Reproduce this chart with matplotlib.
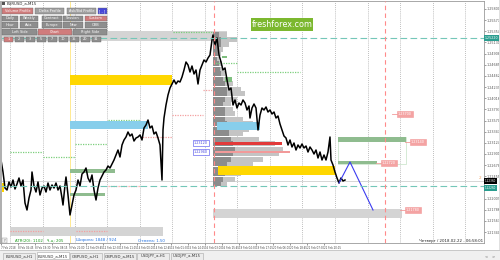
import numpy as np
import matplotlib.pyplot as plt
from matplotlib.patches import Rectangle

plt.rcParams['font.family'] = ['DejaVu Sans']

# ---- price path (bar index, close) ----
bars = [1, 3, 5, 7, 9, 11, 13, 15, 17, 19, 21, 23, 25, 27, 29, 31, 32, 34, 36, 38,
        40, 42, 44, 46, 48, 50, 52, 54, 56, 58, 60, 62, 63, 65, 66, 68, 70, 72, 74, 76,
        78, 80, 82, 84, 86, 88, 90, 92, 94, 96, 98, 100, 102, 104, 106, 108, 110, 112, 114, 116,
        118, 120, 122, 124, 126, 128, 130, 132, 134, 136, 138, 140, 142, 144, 146, 148, 150, 152, 154, 156,
        158, 160, 162, 163, 164, 166, 168, 170, 172, 174, 176, 178, 180, 182, 184, 186, 188, 190, 192, 194,
        196, 198, 200, 202, 204, 206, 208, 210, 212, 213, 215, 217, 219, 221, 223, 225, 227, 229, 231, 233,
        235, 237, 239, 241, 243, 245, 247, 249, 250, 252, 254, 256, 258, 260, 262, 264, 266, 268, 270, 272,
        274, 276, 278, 280, 282, 284, 286, 288, 290, 292, 294, 296, 298, 300, 302, 304, 306, 308, 310, 312,
        314, 316, 318, 320, 322, 324, 326, 328, 330, 331, 333, 335, 337, 339, 341, 343, 345]
close = [1.2278, 1.2254, 1.2222, 1.2218, 1.2234, 1.2224, 1.2238, 1.2220, 1.2230, 1.2242,
         1.2226, 1.2238, 1.2192, 1.2178, 1.2202, 1.2218, 1.2254, 1.2226, 1.2214, 1.2234,
         1.2208, 1.2222, 1.2226, 1.2214, 1.2232, 1.2218, 1.2228, 1.2222, 1.2232, 1.2218,
         1.2226, 1.2202, 1.2188, 1.2228, 1.2244, 1.2208, 1.2168, 1.2188, 1.2208, 1.2218,
         1.2238, 1.2226, 1.2250, 1.2254, 1.2262, 1.2242, 1.2234, 1.2248, 1.2218, 1.2198,
         1.2222, 1.2238, 1.2246, 1.2254, 1.2258, 1.2266, 1.2262, 1.2270, 1.2278, 1.2288,
         1.2298, 1.2284, 1.2308, 1.2318, 1.2324, 1.2334, 1.2326, 1.2330, 1.2316, 1.2322,
         1.2324, 1.2328, 1.2318, 1.2342, 1.2348, 1.2358, 1.2342, 1.2346, 1.2330, 1.2334,
         1.2322, 1.2308, 1.2238, 1.2338, 1.2362, 1.2388, 1.2408, 1.2422, 1.2430, 1.2438,
         1.2430, 1.2436, 1.2434, 1.2444, 1.2458, 1.2474, 1.2468, 1.2454, 1.2466, 1.2450,
         1.2458, 1.2430, 1.2458, 1.2468, 1.2478, 1.2474, 1.2482, 1.2488, 1.2518, 1.2528,
         1.2508, 1.2522, 1.2488, 1.2474, 1.2458, 1.2462, 1.2438, 1.2418, 1.2422, 1.2388,
         1.2398, 1.2382, 1.2392, 1.2388, 1.2398, 1.2392, 1.2378, 1.2386, 1.2362, 1.2382,
         1.2390, 1.2382, 1.2338, 1.2368, 1.2382, 1.2378, 1.2384, 1.2374, 1.2378, 1.2370,
         1.2374, 1.2362, 1.2366, 1.2350, 1.2338, 1.2326, 1.2322, 1.2308, 1.2318, 1.2304,
         1.2312, 1.2298, 1.2308, 1.2302, 1.2310, 1.2302, 1.2306, 1.2294, 1.2304, 1.2298,
         1.2290, 1.2298, 1.2282, 1.2294, 1.2278, 1.2288, 1.2278, 1.2294, 1.2324, 1.2278,
         1.2268, 1.2254, 1.2242, 1.2232, 1.2242, 1.2236, 1.2238]

# forecast zigzag
fc_bars = [339, 350, 373]
fc_price = [1.2232, 1.2274, 1.2178]

# volume profile (anchored at bar 213)
prof_levels = [1.2530, 1.2520, 1.2510, 1.2500, 1.2490, 1.2480, 1.2470, 1.2460, 1.2450, 1.2440,
               1.2430, 1.2420, 1.2410, 1.2400, 1.2390, 1.2380, 1.2370, 1.2360, 1.2350, 1.2340,
               1.2330, 1.2320, 1.2310, 1.2300, 1.2290, 1.2280, 1.2270, 1.2260, 1.2250, 1.2240, 1.2230]
prof_total = [14, 24, 16, 10, 8, 6, 9, 10, 12, 14, 20, 28, 32, 24, 18, 20, 22, 30, 40, 36,
              30, 46, 62, 70, 66, 50, 40, 34, 28, 22, 14]
prof_core = [6, 8, 8, 6, 5, 4, 6, 7, 8, 10, 12, 14, 14, 12, 10, 12, 12, 12, 14, 16,
             16, 18, 20, 22, 20, 18, 14, 14, 12, 10, 8]
prof_start = 213

# zones: bar from/to, price low/high, kind
zone_x0 = [0, 70, 70, 70, 70, 0, 10, 213, 338, 338, 218, 217, 215, 215]
zone_x1 = [227, 172, 148, 115, 105, 4, 163, 402, 406, 377, 335, 260, 282, 290]
zone_lo = [1.2516, 1.2428, 1.2340, 1.2252, 1.2206, 1.2214, 1.2126, 1.2162, 1.2314, 1.2270,
           1.2248, 1.2338, 1.2308, 1.2292]
zone_hi = [1.2536, 1.2448, 1.2356, 1.2260, 1.2212, 1.2232, 1.2144, 1.2180, 1.2324, 1.2276,
           1.2266, 1.2354, 1.2314, 1.2296]
zone_kind = ['gray', 'yellow', 'blue', 'green', 'green', 'yellow', 'gray', 'gray', 'green', 'green',
             'yellow', 'blue', 'red', 'pink']

# dotted levels
lvl_price = [1.2454, 1.2472, 1.2418, 1.2368, 1.2324, 1.2358, 1.2310, 1.2294, 1.2284, 1.2226,
             1.2534, 1.2136, 1.2136]
lvl_x0 = [237, 213, 203, 172, 140, 108, 75, 10, 43, 108, 173, 10, 76]
lvl_x1 = [300, 237, 213, 203, 172, 140, 107, 43, 75, 140, 213, 43, 107]
lvl_kind = ['green', 'green', 'pink', 'pink', 'pink', 'green', 'green', 'green', 'green', 'pink',
            'green', 'pink', 'pink']

# labels
pink_lbl_price = [1.2370, 1.2314, 1.2272, 1.2178]
pink_lbl_bar = [398, 411, 382, 406]
blue_lbl_price = [1.2312, 1.2294]

teal_levels = [1.2522, 1.2226]
bid = 1.2236
day_sep = [10, 43, 75, 107, 140, 172, 205, 237, 270, 302, 335, 368, 400, 433, 465]
red_sep = [214, 385]

# the 1.22232 label is hidden behind the price boxes
price_ticks = [1.25800, 1.25577, 1.25354, 1.25131, 1.24908, 1.24685, 1.24462, 1.24239, 1.24016,
               1.23793, 1.23570, 1.23347, 1.23124, 1.22901, 1.22678, 1.22455, 1.22009,
               1.21786, 1.21563, 1.21340]
time_labels = ["7 Feb 2018", "8 Feb 06:45", "8 Feb 19:30", "9 Feb 08:15", "9 Feb 21:00",
               "12 Feb 09:45", "12 Feb 22:30", "13 Feb 11:15", "14 Feb 00:00", "14 Feb 12:45",
               "15 Feb 01:30", "15 Feb 14:15", "16 Feb 03:00", "16 Feb 15:45", "19 Feb 04:30",
               "19 Feb 17:15", "20 Feb 06:00", "20 Feb 18:45", "21 Feb 07:30", "21 Feb 20:15"]

colors = {'gray': '#d4d4d4', 'yellow': '#ffd700', 'blue': '#87ceeb', 'green': '#8fbc8f',
          'red': '#e23a3a', 'pink': '#f29a9a'}
lvl_colors = {'green': '#7ccf7c', 'pink': '#f4a0a0'}

W, H = 500, 260
fig = plt.figure(figsize=(5, 2.6), dpi=100, facecolor='white')
ax = fig.add_axes([0, 17 / H, 484 / W, 242 / H])
ax.set_xlim(0, 484)
ax.set_ylim(1.2112, 1.2596)

for x in day_sep:
    ax.axvline(x, color='#a8a8a8', ls=(0, (1, 1.5)), lw=0.6, zorder=1)
ax.axvline(70, color='#ffe680', lw=0.6, zorder=1)
for x in red_sep:
    ax.axvline(x, color='#ff8a8a', ls=(0, (4, 3)), lw=0.8, zorder=6)

# zones
for x0, x1, lo, hi, k in zip(zone_x0, zone_x1, zone_lo, zone_hi, zone_kind):
    z = 1.5 if k == 'gray' else 3
    ax.add_patch(Rectangle((x0, lo), x1 - x0, hi - lo, fc=colors[k], ec='none', zorder=z))
ax.add_patch(Rectangle((338, 1.2270), 68, 0.0054, fc='none', ec='#cfe6cf', lw=0.6, zorder=2))

# volume profile
ax.barh(prof_levels, prof_total, height=0.0010, left=prof_start, color='#c4c4c4', zorder=2)
ax.barh(prof_levels, prof_core, height=0.0010, left=prof_start, color='#8c8c8c', zorder=2.2)
ax.add_patch(Rectangle((225, 1.2434), 7, 0.0010, fc='#7fbf7f', ec='none', zorder=2.5))
ax.add_patch(Rectangle((222, 1.2482), 5, 0.0005, fc='#7fbf7f', ec='none', zorder=2.5))

for p, x0, x1, k in zip(lvl_price, lvl_x0, lvl_x1, lvl_kind):
    ax.plot([x0, x1], [p, p], color=lvl_colors[k], ls=(0, (1, 1)), lw=0.9, zorder=2.6)

for p in teal_levels:
    ax.axhline(p, color='#74c7b8', ls=(0, (6, 3)), lw=0.8, zorder=5)
ax.axhline(bid, color='#d0d0d0', lw=0.6, zorder=1.8)

ax.plot(bars, close, color='black', lw=1.1, zorder=4)
ax.plot(fc_bars, fc_price, color='#3c3cf0', lw=0.8, zorder=4)

for p, x in zip(pink_lbl_price, pink_lbl_bar):
    ax.plot([x - 6, x], [p, p], color='#f29a9a', lw=0.6, zorder=6)
    ax.text(x, p, '%.5f' % p, fontsize=2.4, color='white', va='center', ha='left', zorder=7,
            bbox=dict(boxstyle='square,pad=0.3', fc='#f4a3a3', ec='#f29a9a', lw=0.4))
for p in blue_lbl_price:
    ax.text(194, p, '%.5f' % p, fontsize=2.4, color='#4040e0', va='center', ha='left', zorder=7,
            bbox=dict(boxstyle='square,pad=0.3', fc='white', ec='#6a6af0', lw=0.5))

# axes / ticks
ax.yaxis.tick_right()
ax.set_yticks(price_ticks)
ax.set_yticklabels(['%.5f' % t for t in price_ticks])
ax.tick_params(axis='y', length=1.2, width=0.4, pad=1, labelsize=2.4, colors='#555555')
xt = np.arange(len(time_labels)) * 17 + 1
ax.set_xticks(xt)
ax.set_xticklabels(time_labels, ha='left')
ax.tick_params(axis='x', length=1.5, width=0.4, pad=1, labelsize=1.9, colors='#444444')
for s in ax.spines.values():
    s.set_color('#9a9a9a')
    s.set_linewidth(0.6)

# price boxes on the axis
ax.text(485, teal_levels[0], '%.5f' % teal_levels[0], fontsize=2.3, color='white', va='center',
        ha='left', zorder=9, clip_on=False,
        bbox=dict(boxstyle='square,pad=0.25', fc='#2a9d8f', ec='none'))
ax.text(485, teal_levels[1], '%.5f' % teal_levels[1], fontsize=2.0, color='white', va='top',
        ha='left', zorder=9, clip_on=False,
        bbox=dict(boxstyle='square,pad=0.2', fc='#2a9d8f', ec='none'))
ax.text(485, bid, '%.5f' % bid, fontsize=2.0, color='white', va='center', ha='left', zorder=9,
        clip_on=False, bbox=dict(boxstyle='square,pad=0.2', fc='black', ec='none'))
ax.text(481, bid + 0.0006, '2', fontsize=3, color='#f0a060', va='center', ha='right', zorder=9)

# ---- interface overlay in pixel units ----
ui = fig.add_axes([0, 0, 1, 1], zorder=10)
ui.set_xlim(0, W)
ui.set_ylim(H, 0)
ui.axis('off')
ui.patch.set_alpha(0)

ui.add_patch(Rectangle((0, 1), 2, 242, fc='#b0b0b0', ec='none'))
ui.add_patch(Rectangle((499, 0), 1, 250, fc='#e0e0e0', ec='none'))

# watermark
ui.add_patch(Rectangle((251, 18), 62, 13, fc='#7cb82f', ec='none'))
ui.text(282, 24.8, 'freshforex.com', fontsize=5.8, color='white', ha='center', va='center')

# button panel
ui.add_patch(Rectangle((2, 2), 3, 3, fc='#555555', ec='none'))
ui.text(7, 3.6, 'EURUSD_a,M15', fontsize=2.8, color='#222222', va='center')

btn_rows = [
    (["Volume Profile", "Delta Profile", "Ask/Bid Profile", "[ - ]"],
     [2, 35, 67, 98], [33, 64, 96, 107], ['#d07c7c', '#a0a0a0', '#a0a0a0', '#4848d8'], 8),
    (["Daily", "Weekly", "Contract", "Session", "Custom"],
     [2, 20, 42, 63, 85], [18, 38, 62, 83, 107], ['#8e8e8e'] * 4 + ['#d07c7c'], 15.5),
    (["Hour", "Asia", "Europe", "New", "ORB"],
     [2, 20, 42, 63, 85], [18, 38, 62, 83, 107], ['#8e8e8e'] * 5, 22),
    (["Left Side", "Chart", "Right Side"],
     [2, 38, 73], [37, 72, 107], ['#8e8e8e', '#d07c7c', '#8e8e8e'], 29),
]
for labels, xs0, xs1, cols, top in btn_rows:
    for lab, x0, x1, c in zip(labels, xs0, xs1, cols):
        ui.add_patch(Rectangle((x0, top), x1 - x0, 5.5, fc=c, ec='#6a6a6a', lw=0.3))
        ui.text((x0 + x1) / 2, top + 2.9, lab, fontsize=2.5, color='white', ha='center', va='center')

num_btns = ["1", "2", "3", "5", "7", "10", "15", "20", "31"]
for i, lab in enumerate(num_btns):
    x0 = 4 + i * 11
    ui.add_patch(Rectangle((x0, 36.5), 8.5, 5.5, fc='#d07c7c' if i == 0 else '#8e8e8e',
                           ec='#6a6a6a', lw=0.3))
    ui.text(x0 + 4.25, 39.4, lab, fontsize=2.5, color='white', ha='center', va='center')

# indicator info line
ui.add_patch(Rectangle((2, 238), 5, 5, fc='#f0f0f0', ec='#909090', lw=0.3))
ui.text(4.5, 240.6, '?', fontsize=2.2, color='#444444', ha='center', va='center')
ui.text(15, 240.5, 'ATR(20): 1102   Ч-ц: 205', fontsize=2.8, color='#1a9a1a', va='center')
ui.text(76, 240.5, 'Ширина: 1848 / 924', fontsize=2.8, color='#1e6fe0', va='center')
ui.text(138, 240.5, 'Отмена: 1.50', fontsize=2.8, color='#1e6fe0', va='center')
ui.text(483, 241, 'Четверг / 2018.02.22 - 06:58:01', fontsize=2.8, color='#222222',
        va='center', ha='right')

# tab strip
tabs = ["EURUSD_a,H1", "EURUSD_a,M15", "GBPUSD_a,H1", "GBPUSD_a,M15", "USDJPY_a,H1", "USDJPY_a,M15"]
ui.add_patch(Rectangle((0, 250), W, 10, fc='#f0f0f0', ec='none'))
ui.plot([0, W], [250.3, 250.3], color='#b8b8b8', lw=0.5)
for i, lab in enumerate(tabs):
    x0 = 3 + i * 33.5
    active = lab == "EURUSD_a,M15"
    ui.add_patch(Rectangle((x0, 251.5 if active else 252.5), 32, 7.5,
                           fc='white' if active else '#ececec', ec='#a8a8a8', lw=0.4))
    ui.text(x0 + 16, 256, lab, fontsize=2.8, color='#333333', ha='center', va='center')
ui.text(486, 256, '<', fontsize=2.8, color='#666666', ha='center', va='center')
ui.text(493, 256, '>', fontsize=2.8, color='#666666', ha='center', va='center')

fig.savefig('out.png', dpi=100, facecolor='white')
